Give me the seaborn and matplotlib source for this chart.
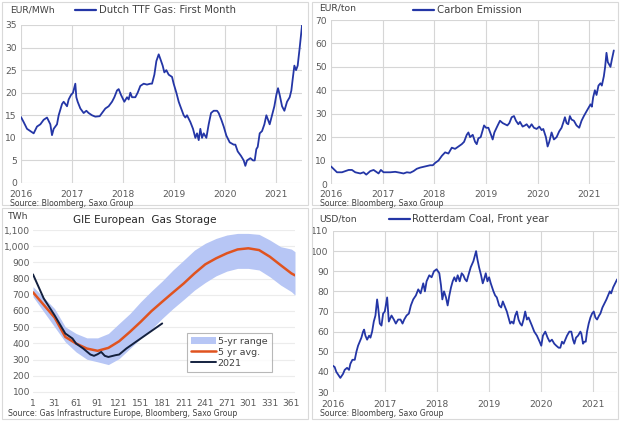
import numpy as np
import pandas as pd
import matplotlib
matplotlib.use("Agg")
import matplotlib.pyplot as plt
import seaborn as sns
from matplotlib.patches import Rectangle
from matplotlib.lines import Line2D

sns.set_theme(style="white")
plt.rcParams['font.family'] = ['DejaVu Sans']

# ---------------- Data ----------------
ttf_year = [0.0, 0.052, 0.118, 0.249, 0.314, 0.380, 0.445, 0.511, 0.576, 0.609, 0.642, 0.707, 0.740,
            0.806, 0.838, 0.904, 0.936, 0.982, 1.022, 1.067, 1.087, 1.113, 1.166, 1.231, 1.284, 1.329,
            1.395, 1.460, 1.546, 1.591, 1.657, 1.722, 1.788, 1.834, 1.886, 1.919, 1.965, 2.030, 2.083,
            2.115, 2.148, 2.181, 2.246, 2.292, 2.344, 2.410, 2.475, 2.541, 2.574, 2.620, 2.659, 2.705,
            2.737, 2.783, 2.816, 2.855, 2.901, 2.967, 2.999, 3.052, 3.098, 3.130, 3.196, 3.229, 3.261,
            3.327, 3.379, 3.425, 3.458, 3.491, 3.523, 3.556, 3.589, 3.641, 3.687, 3.733, 3.785, 3.851,
            3.883, 3.936, 3.982, 4.034, 4.100, 4.178, 4.211, 4.257, 4.322, 4.375, 4.407, 4.440, 4.506,
            4.558, 4.591, 4.623, 4.650, 4.689, 4.735, 4.781, 4.820, 4.853, 4.885, 4.931, 4.977, 5.016,
            5.049, 5.082, 5.128, 5.174, 5.226, 5.278, 5.311, 5.337, 5.370, 5.403, 5.435, 5.475, 5.521]
ttf_val = [14.6, 13.5, 12.0, 11.0, 12.5, 13.0, 14.0, 14.5, 13.0, 10.6, 12.0, 13.0, 15.0,
           17.5, 18.0, 17.0, 18.5, 19.5, 20.0, 22.0, 19.0, 18.0, 16.5, 15.5, 16.0, 15.5,
           15.0, 14.7, 14.8, 15.5, 16.5, 17.0, 18.0, 19.0, 20.5, 20.8, 19.5, 18.0, 19.0,
           18.5, 20.0, 19.0, 19.0, 20.0, 21.5, 22.0, 21.8, 22.0, 22.0, 24.0, 27.0, 28.5,
           27.5, 26.0, 24.5, 25.0, 24.0, 23.5, 22.0, 20.0, 18.0, 17.0, 15.0, 14.5, 15.0,
           13.5, 12.0, 10.0, 11.0, 9.5, 12.0, 10.0, 11.0, 10.0, 13.0, 15.5, 16.0, 16.0,
           15.5, 14.0, 12.5, 10.5, 9.0, 8.5, 8.5, 7.0, 6.0, 5.0, 3.8, 5.0, 5.5,
           5.0, 5.0, 7.5, 8.0, 11.0, 11.5, 13.0, 15.0, 14.0, 13.0, 15.0, 17.0, 19.5,
           21.0, 19.5, 17.0, 16.0, 18.0, 19.0, 20.5, 23.0, 26.0, 25.0, 26.0, 30.0, 35.0]

co2_year = [0.0, 0.116, 0.213, 0.277, 0.342, 0.406, 0.470, 0.567, 0.631, 0.683, 0.760, 0.825, 0.889,
            0.921, 0.966, 1.018, 1.147, 1.244, 1.340, 1.405, 1.469, 1.534, 1.598, 1.662, 1.727, 1.823,
            1.920, 1.972, 2.017, 2.081, 2.146, 2.210, 2.274, 2.339, 2.403, 2.468, 2.532, 2.577, 2.629,
            2.661, 2.693, 2.745, 2.790, 2.822, 2.854, 2.899, 2.938, 2.964, 3.003, 3.048, 3.099, 3.131,
            3.164, 3.196, 3.228, 3.273, 3.325, 3.370, 3.415, 3.454, 3.499, 3.544, 3.582, 3.628, 3.660,
            3.711, 3.756, 3.789, 3.840, 3.885, 3.930, 3.982, 4.034, 4.079, 4.111, 4.162, 4.195, 4.227,
            4.272, 4.317, 4.369, 4.420, 4.465, 4.510, 4.530, 4.562, 4.594, 4.626, 4.659, 4.704, 4.755,
            4.807, 4.852, 4.897, 4.948, 5.000, 5.026, 5.052, 5.077, 5.110, 5.142, 5.180, 5.219, 5.245,
            5.284, 5.309, 5.335, 5.361, 5.387, 5.412, 5.438, 5.477]
co2_val = [7.5, 5.0, 5.0, 5.5, 6.0, 6.0, 5.0, 4.5, 5.0, 4.0, 5.5, 6.0, 5.0,
           4.5, 6.0, 5.0, 5.0, 5.2, 4.8, 4.5, 5.0, 4.8, 5.5, 6.5, 7.0, 7.5,
           8.0, 8.0, 9.0, 10.0, 12.0, 13.5, 13.0, 15.5, 15.0, 16.0, 17.0, 18.0, 21.0,
           22.0, 20.0, 21.0, 18.0, 17.0, 19.5, 20.0, 23.0, 25.0, 24.0, 24.0, 21.0, 19.0,
           22.0, 23.5, 25.0, 27.0, 26.0, 25.5, 25.0, 26.0, 28.5, 29.0, 27.0, 25.5, 26.5,
           24.5, 25.0, 25.5, 24.0, 25.5, 24.0, 23.5, 24.5, 23.0, 23.5, 20.0, 16.0, 18.0,
           22.0, 19.0, 20.0, 22.5, 24.0, 27.0, 28.5, 26.0, 25.5, 29.0, 27.5, 27.0, 25.0,
           24.0, 27.0, 29.0, 31.0, 33.0, 34.0, 33.0, 37.0, 40.0, 38.0, 42.0, 43.0, 42.0,
           46.0, 50.0, 56.0, 52.0, 51.0, 50.0, 53.0, 57.0]

coal_year = [0.0, 0.032, 0.064, 0.116, 0.141, 0.193, 0.225, 0.270, 0.308, 0.334, 0.373, 0.418, 0.450,
             0.482, 0.514, 0.546, 0.578, 0.598, 0.623, 0.656, 0.694, 0.720, 0.752, 0.784, 0.816, 0.848,
             0.868, 0.900, 0.932, 0.964, 0.996, 1.041, 1.073, 1.125, 1.170, 1.208, 1.253, 1.298, 1.337,
             1.369, 1.414, 1.459, 1.497, 1.542, 1.594, 1.639, 1.684, 1.735, 1.767, 1.799, 1.851, 1.896,
             1.941, 1.992, 2.044, 2.076, 2.102, 2.134, 2.172, 2.204, 2.237, 2.269, 2.301, 2.333, 2.365,
             2.397, 2.436, 2.474, 2.506, 2.539, 2.571, 2.603, 2.648, 2.699, 2.731, 2.751, 2.776, 2.808,
             2.847, 2.879, 2.905, 2.937, 2.969, 3.001, 3.033, 3.085, 3.117, 3.149, 3.194, 3.233, 3.265,
             3.310, 3.342, 3.374, 3.406, 3.438, 3.470, 3.503, 3.535, 3.567, 3.599, 3.631, 3.663, 3.695,
             3.728, 3.760, 3.792, 3.824, 3.869, 3.920, 3.972, 4.004, 4.036, 4.081, 4.126, 4.165, 4.209,
             4.254, 4.293, 4.338, 4.370, 4.402, 4.434, 4.467, 4.499, 4.544, 4.582, 4.614, 4.640, 4.672,
             4.711, 4.756, 4.775, 4.807, 4.833, 4.859, 4.884, 4.916, 4.949, 4.981, 5.013, 5.045, 5.077,
             5.116, 5.141, 5.180, 5.219, 5.257, 5.289, 5.321, 5.347, 5.386, 5.424, 5.463]
coal_val = [43, 42.4, 40, 38, 37, 39, 41, 42, 41, 44, 46, 46, 50,
            53, 55, 57, 60, 61, 58, 56, 58, 57, 60, 65, 68, 76,
            72, 64, 63, 69, 70, 77, 65, 68, 66, 64, 66, 66, 64,
            66, 68, 69, 73, 76, 78, 81, 79, 84, 80, 85, 88, 87,
            90, 91, 89, 83, 76, 80, 77, 73, 78, 82, 85, 87, 85,
            88, 85, 89, 88, 86, 85, 88, 92, 95, 98, 100, 96, 92,
            88, 84, 86, 89, 85, 87, 84, 80, 78, 77, 73, 72, 75,
            72, 70, 67, 64, 65, 64, 68, 70, 66, 64, 63, 66, 70,
            66, 67, 65, 63, 60, 58, 55, 53, 58, 60, 57, 55, 56,
            54, 53, 52, 52, 55, 54, 56, 58, 60, 60, 56, 54, 57,
            58, 60, 59, 54, 55, 55, 60, 64, 67, 69, 70, 67, 66,
            68, 69, 72, 74, 76, 78, 80, 79, 82, 84, 86]

gas_day = [1, 31, 46, 61, 76, 91, 106, 121, 136, 151, 166, 181, 196, 211, 226, 241, 256, 271, 286,
           301, 316, 331, 346, 361, 366]
gas_avg = [715, 560, 440, 399, 368, 354, 372, 413, 471, 533, 599, 657, 714, 770, 832, 888, 925, 956,
           980, 987, 976, 935, 883, 832, 820]
gas_max = [750, 615, 502, 461, 434, 434, 461, 523, 584, 657, 723, 785, 853, 914, 976, 1018, 1048,
           1069, 1079, 1079, 1073, 1038, 997, 982, 966]
gas_min = [688, 502, 409, 347, 302, 286, 269, 306, 368, 430, 488, 554, 615, 671, 729, 776, 817, 846,
           863, 863, 853, 811, 760, 719, 698]
gas21_day = [1, 16, 31, 46, 56, 61, 71, 81, 86, 91, 96, 101, 106, 116, 121, 131, 141, 151, 161, 171, 181]
gas21_val = [826, 677, 574, 461, 430, 399, 368, 331, 323, 333, 347, 323, 316, 327, 331, 368, 399, 430,
             461, 492, 523]

year_ticks = [2016, 2017, 2018, 2019, 2020, 2021]
day_ticks = [1, 31, 61, 91, 121, 151, 181, 211, 241, 271, 301, 331, 361]

# ---------------- Styling ----------------
BLUE = "#2436a6"
GRID = "#d6d6d6"
TICK = "#595959"
TXT = "#404040"
FS = 6.6

fig = plt.figure(figsize=(6.2, 4.21), dpi=100)
fig.patch.set_facecolor("white")

def px(x, y, w, h):
    return [x / 620, 1 - (y + h) / 421, w / 620, h / 421]

def style_ts(ax, ylim, yticks, xlim, xpad):
    ax.set_xlim(*xlim)
    ax.set_ylim(*ylim)
    ax.set_yticks(yticks)
    ax.set_xticks(year_ticks)
    ax.set_xticklabels([str(y) for y in year_ticks])
    ax.grid(True, color=GRID, linewidth=0.8)
    for s in ax.spines.values():
        s.set_visible(False)
    ax.tick_params(axis='both', length=0, labelsize=FS, colors=TICK)
    ax.tick_params(axis='y', pad=3)
    ax.tick_params(axis='x', pad=xpad)
    ax.set_xlabel("")
    ax.set_ylabel("")

# panel frames
for (x0, y0, w, h) in [(2, 2, 306, 203), (312, 2, 306, 203), (2, 208, 306, 211), (312, 208, 306, 211)]:
    fig.add_artist(Rectangle((x0 / 620, 1 - (y0 + h) / 421), w / 620, h / 421,
                             transform=fig.transFigure, fill=False, edgecolor="#d9d9d9", linewidth=0.8))

# ---- Top-left: TTF
ax1 = fig.add_axes(px(21, 25, 281, 158))
df1 = pd.DataFrame({"x": np.array(ttf_year) + 2016, "y": ttf_val})
sns.lineplot(data=df1, x="x", y="y", ax=ax1, color=BLUE, linewidth=1.3)
style_ts(ax1, (0, 35), np.arange(0, 36, 5), (2016, 2021.52), 5)
fig.text(10 / 620, 1 - 10 / 421, "EUR/MWh", fontsize=FS, color=TXT, va="center")
fig.add_artist(Line2D([75 / 620, 96 / 620], [1 - 10 / 421] * 2, color=BLUE, linewidth=1.6))
fig.text(99 / 620, 1 - 10 / 421, "Dutch TTF Gas: First Month", fontsize=7.3, color=TXT, va="center")
fig.text(10 / 620, 1 - 203.5 / 421, "Source: Bloomberg, Saxo Group", fontsize=5.6, color=TXT, va="center")

# ---- Top-right: Carbon
ax2 = fig.add_axes(px(331, 20, 284, 164))
df2 = pd.DataFrame({"x": np.array(co2_year) + 2016, "y": co2_val})
sns.lineplot(data=df2, x="x", y="y", ax=ax2, color=BLUE, linewidth=1.3)
style_ts(ax2, (0, 70), np.arange(0, 71, 10), (2016, 2021.5), 4.5)
fig.text(319 / 620, 1 - 8 / 421, "EUR/ton", fontsize=FS, color=TXT, va="center")
fig.add_artist(Line2D([413 / 620, 434 / 620], [1 - 10 / 421] * 2, color=BLUE, linewidth=1.6))
fig.text(437 / 620, 1 - 10 / 421, "Carbon Emission", fontsize=7.3, color=TXT, va="center")
fig.text(320 / 620, 1 - 203.5 / 421, "Source: Bloomberg, Saxo Group", fontsize=5.6, color=TXT, va="center")

# ---- Bottom-left: Gas storage
ax3 = fig.add_axes(px(33, 230, 262, 166))
ax3.fill_between(gas_day, gas_min, gas_max, color="#b7c6f5", linewidth=0, label="5-yr range")
dfa = pd.DataFrame({"x": gas_day, "y": gas_avg})
sns.lineplot(data=dfa, x="x", y="y", ax=ax3, color="#e0531f", linewidth=1.8, label="5 yr avg.")
df21 = pd.DataFrame({"x": gas21_day, "y": gas21_val})
sns.lineplot(data=df21, x="x", y="y", ax=ax3, color="#14213f", linewidth=1.4, label="2021")
ax3.set_xlim(1, 366)
ax3.set_ylim(75, 1100)
ax3.set_yticks(np.arange(100, 1101, 100))
ax3.set_yticklabels([f"{v:,}" for v in range(100, 1101, 100)])
ax3.set_xticks(day_ticks)
ax3.set_axisbelow(True)
ax3.grid(True, axis='y', color="#ececec", linewidth=0.8)
for s in ax3.spines.values():
    s.set_visible(False)
ax3.tick_params(axis='both', length=0, labelsize=FS, colors=TICK, pad=2)
ax3.set_xlabel("")
ax3.set_ylabel("")
leg = ax3.legend(loc="lower left", bbox_to_anchor=(0.588, 0.145), borderaxespad=0, fontsize=6.8,
                 frameon=True, fancybox=False, edgecolor="#a6a6a6", handlelength=2.6, borderpad=0.45,
                 labelspacing=0.2, handletextpad=0.2)
leg.get_frame().set_linewidth(0.8)
for t in leg.get_texts():
    t.set_color(TXT)
fig.text(8 / 620, 1 - 216 / 421, "TWh", fontsize=FS, color=TXT, va="center")
fig.text(145 / 620, 1 - 220 / 421, "GIE European  Gas Storage", fontsize=7.6, color="#262626",
         va="center", ha="center")
fig.text(8 / 620, 1 - 413.5 / 421, "Source: Gas Infrastructure Europe, Bloomberg, Saxo Group",
         fontsize=5.6, color=TXT, va="center")

# ---- Bottom-right: Coal
ax4 = fig.add_axes(px(333, 231, 284, 161))
df4 = pd.DataFrame({"x": np.array(coal_year) + 2016, "y": coal_val})
sns.lineplot(data=df4, x="x", y="y", ax=ax4, color=BLUE, linewidth=1.3)
style_ts(ax4, (30, 110), np.arange(30, 111, 10), (2016, 2021.46), 5.5)
fig.text(319 / 620, 1 - 219 / 421, "USD/ton", fontsize=FS, color=TXT, va="center")
fig.add_artist(Line2D([389 / 620, 410 / 620], [1 - 219 / 421] * 2, color=BLUE, linewidth=1.6))
fig.text(412 / 620, 1 - 219 / 421, "Rotterdam Coal, Front year", fontsize=7.3, color=TXT, va="center")
fig.text(320 / 620, 1 - 414 / 421, "Source: Bloomberg, Saxo Group", fontsize=5.6, color=TXT, va="center")

fig.savefig("out.png", dpi=100)
